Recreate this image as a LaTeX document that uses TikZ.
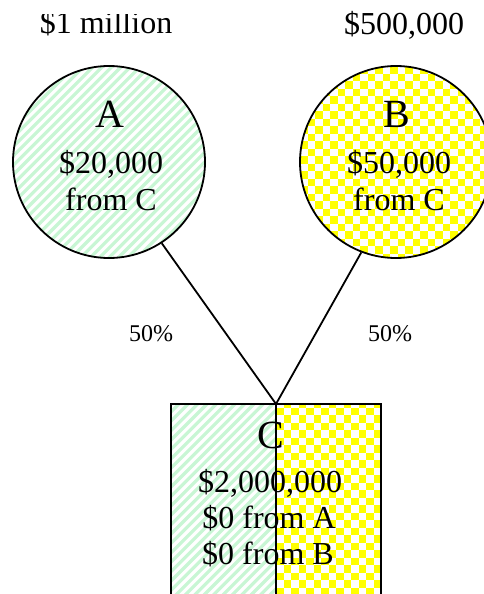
\documentclass[tikz,border=0pt]{standalone}
\usepackage{fontspec}
\setmainfont{Liberation Serif}
\definecolor{mint}{RGB}{200,246,212}
\definecolor{chkyellow}{RGB}{255,255,0}
\tikzset{
  partycircle/.style={circle,draw=black,line width=1.8pt,minimum size=192pt,inner sep=0pt},
  link/.style={draw=black,line width=1.8pt},
  hatchline/.style={draw=mint,line width=3.2pt},
  bigtxt/.style={font=\fontsize{40}{44}\selectfont,anchor=base,inner sep=0pt},
  midtxt/.style={font=\fontsize{32}{36}\selectfont,anchor=base,inner sep=0pt},
  smalltxt/.style={font=\fontsize{24}{28}\selectfont,anchor=base,inner sep=0pt}
}
\begin{document}
\begin{tikzpicture}[x=1pt,y=-1pt]
\useasboundingbox (0,0) rectangle (484,594);
\clip (0,0) rectangle (484,594);
\fill[white] (0,0) rectangle (484,594);
% green hatch (circle A and left half of C)
\begin{scope}
  \clip (109,162) circle (96) (171,403) rectangle (276,620);
  \foreach \k in {0,...,120}{
    \draw[hatchline] ({\k*9.4-600},600) -- ({\k*9.4},0);
  }
\end{scope}
% yellow checkerboard (circle B and right half of C)
\begin{scope}
  \clip (396,162) circle (96) (276,403) rectangle (381,620);
  \foreach \i in {0,...,26}{
    \foreach \j in {0,...,26}{
      \ifodd\numexpr\i+\j\relax\else
        \fill[chkyellow] ({300+\i*7.5},{66+\j*7.5}) rectangle ++(7.5,7.5);
      \fi
    }
  }
  \foreach \i in {0,...,14}{
    \foreach \j in {0,...,26}{
      \ifodd\numexpr\i+\j\relax
        \fill[chkyellow] ({276+\i*7.5},{400+\j*7.5}) rectangle ++(7.5,7.5);
      \fi
    }
  }
\end{scope}
% top labels
\begin{scope}
  \clip (0,15) rectangle (242,60);
  \node[midtxt] (topA) at (106,34) {\$1 million};
\end{scope}
\node[midtxt] (topB) at (404,35) {\$500,000};
% circles
\node[partycircle] (A) at (109,162) {};
\node[partycircle] (B) at (396,162) {};
\node[bigtxt] (Aname) at (110,127) {A};
\node[midtxt] (Aamt) at (111,173) {\$20,000};
\node[midtxt] (Afrom) at (111,210) {from C};
\node[bigtxt] (Bname) at (397,127) {B};
\node[midtxt] (Bamt) at (399,173) {\$50,000};
\node[midtxt] (Bfrom) at (399,210) {from C};
% C box
\coordinate (apex) at (276,404);
\coordinate (divbot) at (276,620);
\draw[line width=1.8pt] (171,620) -- (171,404) -- (381,404) -- (381,620);
\draw[link] (apex) -- (divbot);
\node[bigtxt] (Cname) at (271,448) {C};
\node[midtxt] (Camt) at (270,492) {\$2,000,000};
\node[midtxt] (CfromA) at (269,528) {\$0 from A};
\node[midtxt] (CfromB) at (268,564) {\$0 from B};
% links
\draw[link] (A.303.7) -- (apex);
\draw[link] (B.249.5) -- (apex);
\node[smalltxt] (pA) at (151,341) {50\%};
\node[smalltxt] (pB) at (390,341) {50\%};
\end{tikzpicture}
\end{document}
